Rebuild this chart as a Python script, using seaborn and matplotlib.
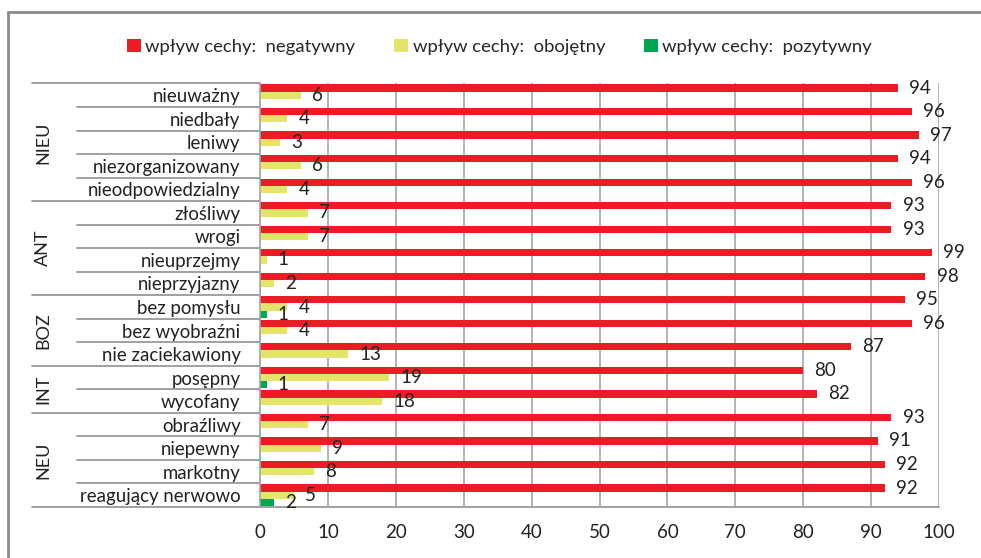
import numpy as np
import pandas as pd
import seaborn as sns
import matplotlib.pyplot as plt
from matplotlib.lines import Line2D
from matplotlib.patches import Patch
import matplotlib.transforms as mtransforms

sns.set_theme(style="white")
plt.rcParams['font.family'] = ['Lato', 'DejaVu Sans']

# Cechy (kategorie) i grupy
cechy = ["nieuważny", "niedbały", "leniwy", "niezorganizowany", "nieodpowiedzialny",
         "złośliwy", "wrogi", "nieuprzejmy", "nieprzyjazny",
         "bez pomysłu", "bez wyobraźni", "nie zaciekawiony",
         "posępny", "wycofany",
         "obraźliwy", "niepewny", "markotny", "reagujący nerwowo"]
grupy = ["NIEU", "ANT", "BOZ", "INT", "NEU"]
grupy_liczebnosc = [5, 4, 3, 2, 4]

# Wartości (%)
negatywny = [94, 96, 97, 94, 96, 93, 93, 99, 98, 95, 96, 87, 80, 82, 93, 91, 92, 92]
obojetny = [6, 4, 3, 6, 4, 7, 7, 1, 2, 4, 4, 13, 19, 18, 7, 9, 8, 5]
pozytywny = [0, 0, 0, 0, 0, 0, 0, 0, 0, 1, 0, 0, 1, 0, 0, 0, 0, 2]

serie = ["wpływ cechy:  negatywny", "wpływ cechy:  obojętny", "wpływ cechy:  pozytywny"]
kolory = ["#ED1C24", "#E4E46A", "#00A651"]

df = pd.DataFrame({
    "cecha": cechy * 3,
    "wartosc": negatywny + obojetny + pozytywny,
    "seria": [serie[0]] * len(cechy) + [serie[1]] * len(cechy) + [serie[2]] * len(cechy),
})

W, H = 981, 558
fig = plt.figure(figsize=(W / 100, H / 100), dpi=100)
ax_left, ax_right, ax_top, ax_bot = 260, 939, 83.5, 507
ax = fig.add_axes([ax_left / W, 1 - ax_bot / H, (ax_right - ax_left) / W, (ax_bot - ax_top) / H])

sns.barplot(data=df, y="cecha", x="wartosc", hue="seria", order=cechy, hue_order=serie,
            palette=kolory, orient="h", width=0.92, saturation=1, legend=False, ax=ax,
            linewidth=0)

# Etykiety wartości
for cont, vals in zip(ax.containers, [negatywny, obojetny, pozytywny]):
    labels = [str(v) if v > 0 else "" for v in vals]
    ax.bar_label(cont, labels=labels, padding=8, fontsize=13.5, color="#222222")

ax.set_xlim(0, 100)
ax.set_ylim(len(cechy) - 0.5, -0.5)
ax.set_xticks(np.arange(0, 101, 10))
ax.set_xlabel("")
ax.set_ylabel("")
ax.tick_params(axis="x", labelsize=13.5, colors="#222222", length=5, width=1, direction="out",
               pad=7, color="#999999")
ax.tick_params(axis="y", labelsize=13.4, length=0, pad=14, labelcolor="#222222")
ax.xaxis.grid(True, color="#A6A6A6", linewidth=1.2)
ax.set_axisbelow(True)
for s in ["top", "right"]:
    ax.spines[s].set_visible(False)
ax.spines["left"].set_color("#A6A6A6")
ax.spines["left"].set_linewidth(1.2)
ax.spines["bottom"].set_visible(False)

# Linie oddzielające wiersze i grupy
axw = ax_right - ax_left
trans = mtransforms.blended_transform_factory(ax.transAxes, ax.transData)
x_row = (77 - ax_left) / axw
x_grp = (32 - ax_left) / axw
granice = np.cumsum(grupy_liczebnosc)
for i in range(len(cechy) + 1):
    y = i - 0.5
    if i == 0 or i in granice:
        x0, x1 = x_grp, (0 if i < len(cechy) else 1)
    else:
        x0, x1 = x_row, 0
    ax.add_line(Line2D([x0, x1], [y, y], transform=trans, color="#A0A0A0", lw=1.4,
                       clip_on=False))

# Nazwy grup
start = 0
for g, n in zip(grupy, grupy_liczebnosc):
    yc = start + (n - 1) / 2
    ax.text((43 - ax_left) / axw, yc, g, transform=trans, rotation=90, ha="center",
            va="center", fontsize=13, color="#222222")
    start += n

# Legenda
handles = [Patch(facecolor=c, edgecolor="none") for c in kolory]
fig.legend(handles, serie, loc="center", bbox_to_anchor=(0.509, 1 - 47 / H), ncol=3,
           frameon=False, fontsize=13.3, handlelength=0.75, handleheight=0.75,
           handletextpad=0.25, columnspacing=2.1)

# Ramka
fig.add_artist(Line2D([8 / W, 1], [1 - 12 / H, 1 - 12 / H], transform=fig.transFigure,
                      color="#8A8A8A", lw=2))
fig.add_artist(Line2D([8 / W, 8 / W], [0, 1 - 12 / H], transform=fig.transFigure,
                      color="#8A8A8A", lw=2))

fig.savefig("out.png", dpi=100)
